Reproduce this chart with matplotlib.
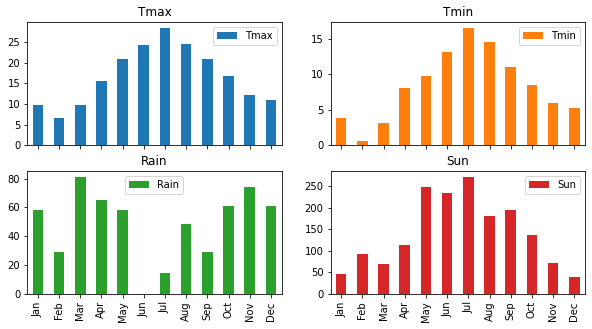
import matplotlib.pyplot as plt
import numpy as np

months = ["Jan", "Feb", "Mar", "Apr", "May", "Jun",
          "Jul", "Aug", "Sep", "Oct", "Nov", "Dec"]

tmax = [9.7, 6.7, 9.8, 15.7, 21.0, 24.4, 28.5, 24.7, 21.0, 16.7, 12.3, 10.9]
tmin = [3.8, 0.6, 3.1, 8.0, 9.8, 13.1, 16.5, 14.5, 11.0, 8.5, 5.9, 5.2]
rain = [58.3, 29.3, 81.2, 65.2, 58.3, 0.0, 14.8, 48.6, 29.3, 61.1, 74.2, 61.1]
sun = [46.9, 93.1, 70.0, 113.8, 247.7, 233.8, 270.8, 180.8, 194.6, 136.9, 72.3, 40.0]

series = [
    ("Tmax", tmax, "#1f77b4", "upper right"),
    ("Tmin", tmin, "#ff7f0e", "upper right"),
    ("Rain", rain, "#2ca02c", "upper center"),
    ("Sun", sun, "#d62728", "upper right"),
]

fig, axes = plt.subplots(2, 2, figsize=(592 / 72, 329 / 72), dpi=72, sharex=True)
fig.subplots_adjust(left=0.046, right=0.988, top=0.933, bottom=0.106,
                    wspace=0.193, hspace=0.21)

x = np.arange(len(months))
for ax, (name, vals, color, loc) in zip(axes.flat, series):
    ax.bar(x, vals, width=0.5, color=color, label=name)
    ax.set_title(name)
    ax.set_xlim(-0.5, len(months) - 0.5)
    ax.set_ylim(0, max(vals) * 1.05)
    ax.legend(loc=loc)

for ax in axes[1]:
    ax.set_xticks(x)
    ax.set_xticklabels(months, rotation=90)

plt.savefig("out.png", dpi=72)
